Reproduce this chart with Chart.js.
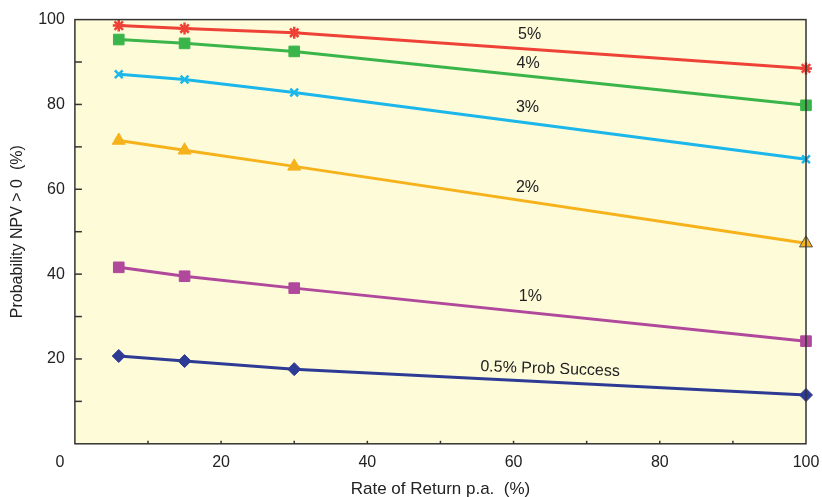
<!DOCTYPE html>
<html lang="en">
<head>
  <meta charset="UTF-8" />
  <title>Probability NPV > 0</title>
  <style>
    html, body { margin: 0; padding: 0; background: #fff; }
    .wrap { width: 822px; height: 497px; }
  </style>
  <script src="https://cdn.jsdelivr.net/npm/chart.js"></script>
</head>
<body>
  <div class="wrap"><canvas id="chart" width="822" height="497"></canvas></div>
  <script>
    // rate of return p.a. (%)
    const returnRates = [6, 15, 30, 100];

    // probability NPV > 0 (%) for each probability of success
    const p5 = [98.6, 97.9, 96.9, 88.5];
    const p4 = [95.3, 94.4, 92.5, 79.8];
    const p3 = [87.1, 85.9, 82.8, 67.1];
    const p2 = [71.5, 69.2, 65.4, 47.3];
    const p1 = [41.6, 39.5, 36.7, 24.2];
    const p05 = [20.7, 19.5, 17.6, 11.5];

    const xTickLabels = [0, 20, 40, 60, 80, 100];
    const yTickLabels = [20, 40, 60, 80, 100];

    // curve labels, placed in data units
    const curveLabels = ['5%', '4%', '3%', '2%', '1%', '0.5% Prob Success'];
    const curveLabelX = [62.2, 62.0, 61.9, 61.9, 62.3, 65.0];
    const curveLabelY = [96.5, 89.6, 79.3, 60.5, 34.6, 17.6];

    const toPoints = ys => ys.map((y, i) => ({ x: returnRates[i], y: y }));

    function series(label, values, color, style, radius) {
      return {
        label: label,
        data: toPoints(values),
        borderColor: color,
        backgroundColor: color,
        pointBackgroundColor: color,
        pointBorderColor: color,
        borderWidth: 3,
        pointStyle: style,
        pointRadius: radius,
        pointBorderWidth: 1,
        tension: 0,
        clip: false
      };
    }

    const datasets = [
      series('5%', p5, '#ee4236', 'star', 6),
      series('4%', p4, '#3ab54a', 'rect', 7.5),
      series('3%', p3, '#1bb7ea', 'crossRot', 5.5),
      series('2%', p2, '#f6b21a', 'triangle', 7.5),
      series('1%', p1, '#b0489b', 'rect', 7.5),
      series('0.5%', p05, '#2e3b94', 'rectRot', 6.5)
    ];
    datasets[0].pointBorderWidth = 2.5;
    datasets[2].pointBorderWidth = 2.5;
    // last triangle has a dark outline
    datasets[3].pointBorderColor = ctx => ctx.dataIndex === returnRates.length - 1 ? '#555' : '#f6b21a';

    const frame = {
      id: 'frame',
      beforeDatasetsDraw(chart) {
        const { ctx, chartArea: a } = chart;
        ctx.save();
        ctx.fillStyle = '#fefbd9';
        ctx.fillRect(a.left, a.top, a.right - a.left, a.bottom - a.top);
        ctx.restore();
      },
      afterDraw(chart) {
        const { ctx, chartArea: a, scales } = chart;
        ctx.save();
        ctx.strokeStyle = '#333';
        ctx.lineWidth = 1.5;
        ctx.strokeRect(a.left, a.top, a.right - a.left, a.bottom - a.top);
        // inward tick marks
        for (let v = 10; v < 100; v += 10) {
          const x = scales.x.getPixelForValue(v);
          ctx.beginPath();
          ctx.moveTo(x, a.bottom);
          ctx.lineTo(x, a.bottom - 3);
          ctx.stroke();
          const y = scales.y.getPixelForValue(v);
          ctx.beginPath();
          ctx.moveTo(a.left, y);
          ctx.lineTo(a.left + 7, y);
          ctx.stroke();
        }
        // origin label sits left of the axis corner
        ctx.fillStyle = '#222';
        ctx.font = '16px "Liberation Sans", Arial, sans-serif';
        ctx.textAlign = 'center';
        ctx.textBaseline = 'middle';
        ctx.fillText('0', a.left - 15, a.bottom + 19);
        // curve labels
        curveLabels.forEach((t, i) => {
          const x = scales.x.getPixelForValue(curveLabelX[i]);
          const y = scales.y.getPixelForValue(curveLabelY[i]);
          ctx.save();
          ctx.translate(x, y);
          if (i === curveLabels.length - 1) ctx.rotate(2 * Math.PI / 180);
          ctx.fillText(t, 0, 0);
          ctx.restore();
        });
        ctx.restore();
      }
    };

    Chart.defaults.font.family = '"Liberation Sans", Arial, sans-serif';
    Chart.defaults.color = '#222';

    new Chart(document.getElementById('chart').getContext('2d'), {
      type: 'line',
      data: { datasets: datasets },
      options: {
        responsive: false,
        animation: false,
        layout: { padding: { top: 7, right: 0, left: 8, bottom: -1 } },
        plugins: { legend: { display: false }, tooltip: { enabled: false } },
        scales: {
          x: {
            type: 'linear',
            min: 0,
            max: 100,
            grid: { display: false, drawTicks: false },
            border: { display: false },
            afterFit: s => { s.paddingRight = 16; },
            ticks: {
              stepSize: 20,
              padding: 9,
              font: { size: 16 },
              callback: v => (xTickLabels.includes(v) && v !== 0) ? String(v) : ''
            },
            title: {
              display: true,
              text: 'Rate of Return p.a.  (%)',
              font: { size: 17, lineHeight: 1 },
              padding: { top: 0, bottom: 0 }
            }
          },
          y: {
            min: 0,
            max: 100,
            grid: { display: false, drawTicks: false },
            border: { display: false },
            ticks: {
              stepSize: 20,
              padding: 10,
              font: { size: 16 },
              callback: v => yTickLabels.includes(v) ? String(v) : ''
            },
            title: {
              display: true,
              text: 'Probability NPV > 0  (%)',
              font: { size: 16 },
              padding: { top: 0, bottom: 1 }
            }
          }
        }
      },
      plugins: [frame]
    });
  </script>
</body>
</html>
